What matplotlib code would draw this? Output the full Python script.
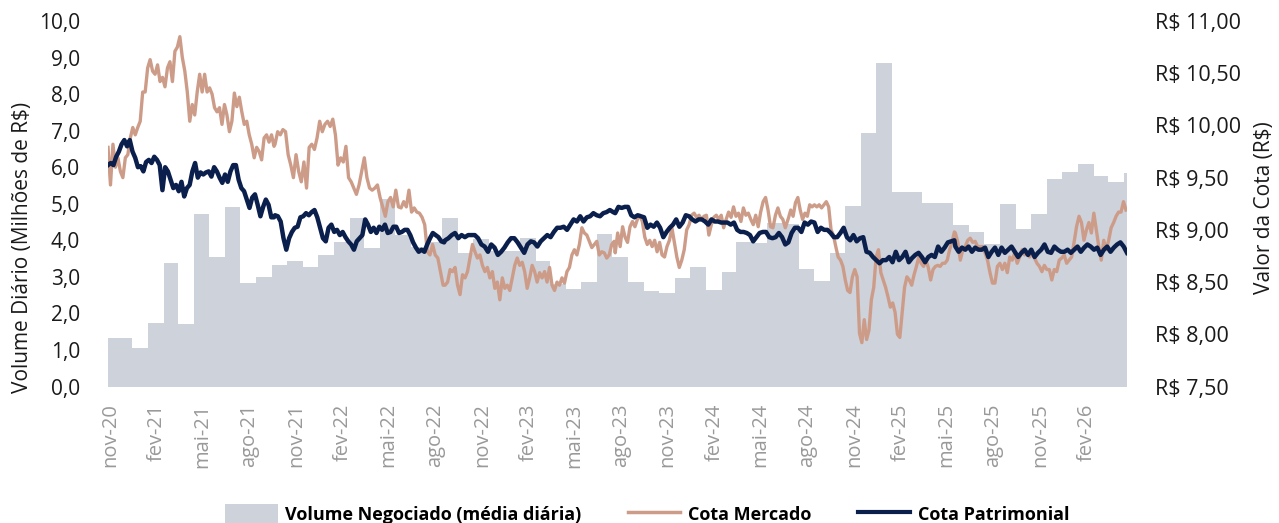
import numpy as np
import pandas as pd
import matplotlib
matplotlib.use("Agg")
import matplotlib.pyplot as plt
from matplotlib.patches import Patch
from matplotlib.lines import Line2D

plt.rcParams['font.family'] = ['Open Sans', 'DejaVu Sans']

# ---------------- data ----------------
# monthly average traded volume (R$ millions), nov-20 .. abr-26
volume = [1.33, 1.05, 1.74, 3.38, 1.71, 4.73, 3.55, 4.90, 2.84, 3.00, 3.33, 3.42,
          3.28, 3.61, 3.95, 4.60, 3.80, 5.14, 4.15, 3.83, 3.96, 4.62, 3.66, 4.03,
          3.70, 3.70, 4.05, 3.43, 2.80, 2.67, 2.86, 4.18, 3.53, 2.86, 2.62, 2.57,
          2.98, 3.28, 2.65, 3.14, 3.96, 3.93, 4.48, 4.45, 3.22, 2.90, 3.65, 4.93,
          6.93, 8.85, 5.33, 5.33, 5.03, 5.03, 4.43, 4.24, 3.90, 5.00, 4.32, 4.73,
          5.67, 5.88, 6.10, 5.75, 5.60, 5.85]
volume_start = "2020-10-28"
volume_end = "2026-04-21"

# Cota Mercado (R$), read in six consecutive periods
merc_1 = [9.79, 9.43, 9.82, 9.60, 9.69, 9.56, 9.50, 9.69, 9.72, 9.88, 9.98, 9.91, 9.98, 10.04,
          10.32, 10.32, 10.55, 10.63, 10.52, 10.49, 10.58, 10.42, 10.46, 10.37, 10.55, 10.61,
          10.42, 10.71, 10.75, 10.85, 10.65, 10.52, 10.32, 10.04, 10.20, 10.10, 10.32, 10.49,
          10.32, 10.49, 10.32, 10.36, 10.30, 10.17, 10.13, 10.17, 10.01, 10.20, 10.10, 9.94,
          10.04, 10.31, 10.18, 10.27, 10.13, 10.01, 10.04, 9.91, 9.82, 9.69, 9.79, 9.75, 9.67,
          9.88, 9.91, 9.84, 9.91, 9.80]
merc_2 = [9.82, 9.94, 9.91, 9.96, 9.94, 9.72, 9.62, 9.50, 9.72, 9.56, 9.46, 9.65, 9.40, 9.79,
          9.82, 9.77, 9.88, 10.04, 9.94, 10.01, 10.04, 9.99, 10.06, 9.91, 9.62, 9.69, 9.65,
          9.80, 9.50, 9.46, 9.40, 9.34, 9.43, 9.56, 9.69, 9.50, 9.40, 9.38, 9.40, 9.43, 9.31,
          9.22, 9.13, 9.27, 9.31, 9.22, 9.38, 9.22, 9.21, 9.27, 9.22, 9.38, 9.17, 9.21, 9.17,
          9.16, 9.12, 9.05, 8.79, 8.76, 8.86, 8.76, 8.73, 8.60, 8.47]
merc_3 = [8.47, 8.50, 8.62, 8.60, 8.64, 8.47, 8.38, 8.57, 8.54, 8.60, 8.73, 8.86, 8.79, 8.73,
          8.76, 8.66, 8.60, 8.64, 8.54, 8.60, 8.44, 8.50, 8.33, 8.54, 8.44, 8.47, 8.42, 8.54,
          8.66, 8.73, 8.66, 8.69, 8.60, 8.44, 8.54, 8.66, 8.60, 8.50, 8.59, 8.54, 8.60, 8.50,
          8.64, 8.47, 8.42, 8.50, 8.47, 8.54, 8.49, 8.60, 8.64, 8.76, 8.81, 8.76, 8.86, 9.02,
          8.97, 8.95, 8.89, 8.83, 8.86, 8.89, 8.76, 8.79, 8.78, 8.73, 8.76, 8.86, 8.89]
merc_4 = [8.78, 8.97, 8.84, 9.03, 8.93, 8.88, 9.03, 9.08, 9.03, 9.10, 9.14, 9.08, 8.93, 8.86,
          8.90, 8.84, 8.90, 8.79, 8.88, 8.76, 8.74, 8.84, 8.90, 9.02, 8.88, 8.74, 8.64, 8.71,
          8.81, 9.00, 9.05, 9.14, 9.16, 9.12, 9.14, 9.10, 9.13, 9.14, 8.95, 9.05, 9.12, 9.14,
          9.10, 9.14, 9.02, 9.10, 9.17, 9.12, 9.22, 9.13, 9.16, 9.08, 9.21, 9.14, 9.16, 9.10,
          9.05, 9.14, 9.03, 9.17, 9.27, 9.31, 9.19, 9.03, 9.02, 9.14, 9.21, 9.13, 9.10, 9.02]
merc_5 = [9.11, 9.19, 9.13, 9.26, 9.31, 9.19, 9.10, 9.16, 9.13, 9.24, 9.22, 9.24, 9.22, 9.24,
          9.21, 9.24, 9.27, 9.22, 9.00, 8.95, 8.84, 8.74, 8.71, 8.65, 8.52, 8.42, 8.40, 8.55,
          8.62, 8.55, 8.01, 7.92, 8.14, 7.95, 8.04, 8.33, 8.45, 8.74, 8.81, 8.59, 8.52, 8.45,
          8.36, 8.26, 8.30, 8.21, 8.00, 7.97, 8.21, 8.45, 8.55, 8.52, 8.47, 8.57, 8.65, 8.74,
          8.68, 8.65, 8.71, 8.64, 8.52, 8.62, 8.65, 8.66, 8.65, 8.68, 8.68, 8.71, 8.81, 8.88,
          8.98]
merc_6 = [8.97, 8.88, 8.71, 8.81, 8.84, 8.90, 8.92, 8.88, 8.89, 8.84, 8.84, 8.84, 8.78, 8.71,
          8.59, 8.49, 8.49, 8.65, 8.68, 8.62, 8.68, 8.59, 8.74, 8.71, 8.78, 8.68, 8.74, 8.81,
          8.76, 8.78, 8.74, 8.78, 8.73, 8.68, 8.65, 8.60, 8.66, 8.62, 8.62, 8.52, 8.62, 8.60,
          8.71, 8.73, 8.76, 8.68, 8.71, 8.74, 8.88, 9.03, 9.13, 9.07, 8.90, 9.00, 9.07, 8.97,
          9.16, 9.00, 8.84, 8.71, 8.90, 8.81, 8.90, 9.02, 9.07, 9.13, 9.17, 9.17, 9.27, 9.19]
merc_periods = [("2020-10-28", "2021-09-19"), ("2021-09-21", "2022-08-17"),
                ("2022-08-21", "2023-07-19"), ("2023-07-21", "2024-06-19"),
                ("2024-06-25", "2025-05-17"), ("2025-05-19", "2026-04-19")]

# Cota Patrimonial (R$)
patr_1 = [9.62, 9.64, 9.62, 9.70, 9.75, 9.82, 9.86, 9.80, 9.86, 9.75, 9.69, 9.60, 9.61, 9.56,
          9.65, 9.67, 9.64, 9.70, 9.67, 9.62, 9.38, 9.60, 9.56, 9.48, 9.40, 9.43, 9.37, 9.46,
          9.32, 9.40, 9.43, 9.56, 9.64, 9.50, 9.55, 9.53, 9.55, 9.56, 9.51, 9.60, 9.56, 9.50,
          9.45, 9.53, 9.46, 9.56, 9.62, 9.62, 9.48, 9.40, 9.37, 9.29, 9.21, 9.31, 9.34, 9.24,
          9.13, 9.22, 9.29, 9.24, 9.12, 9.12]
patr_2 = [9.14, 9.13, 9.08, 8.92, 8.81, 8.92, 8.98, 9.02, 9.03, 9.12, 9.13, 9.16, 9.14, 9.17,
          9.19, 9.12, 9.02, 8.92, 8.89, 9.02, 9.05, 8.98, 9.00, 8.95, 8.98, 8.93, 8.89, 8.86,
          8.81, 8.89, 8.92, 8.95, 9.10, 9.05, 8.98, 9.02, 8.97, 9.03, 9.00, 9.05, 8.97, 8.98,
          9.03, 9.03, 8.97, 8.98, 9.00, 9.00, 8.95, 8.88, 8.83, 8.79, 8.81, 8.79, 8.86, 8.92,
          8.97, 8.95, 8.93, 8.89, 8.88]
patr_3 = [8.90, 8.92, 8.95, 8.97, 8.92, 8.95, 8.93, 8.95, 8.95, 8.95, 8.92, 8.86, 8.84, 8.79,
          8.86, 8.83, 8.76, 8.79, 8.83, 8.88, 8.92, 8.92, 8.88, 8.83, 8.78, 8.86, 8.89, 8.88,
          8.84, 8.89, 8.92, 8.95, 8.93, 8.98, 9.02, 9.02, 9.03, 9.00, 9.05, 9.10, 9.08, 9.13,
          9.08, 9.12, 9.13, 9.16, 9.14, 9.13, 9.16, 9.17, 9.19, 9.17]
patr_4 = [9.16, 9.22, 9.21, 9.22, 9.22, 9.14, 9.12, 9.14, 9.13, 9.12, 9.02, 9.05, 9.03, 9.07,
          9.02, 8.93, 8.98, 9.02, 9.05, 9.10, 9.03, 9.07, 9.14, 9.13, 9.10, 9.08, 9.10, 9.10,
          9.08, 9.05, 9.10, 9.08, 9.08, 9.07, 9.07, 9.07, 9.05, 9.07, 9.00, 8.98, 8.98, 8.97,
          8.95, 8.89, 8.93, 8.97, 8.98, 8.98, 8.93, 8.92, 8.93, 8.97, 8.93, 8.86]
patr_5 = [8.88, 8.97, 9.02, 9.02, 8.98, 9.07, 9.05, 9.08, 9.07, 8.98, 9.02, 9.00, 9.00, 8.97,
          8.93, 8.93, 8.97, 9.02, 8.93, 8.90, 8.95, 8.89, 8.92, 8.93, 8.79, 8.78, 8.74, 8.71,
          8.68, 8.71, 8.71, 8.74, 8.69, 8.79, 8.71, 8.74, 8.79, 8.69, 8.73, 8.76, 8.78, 8.74,
          8.69, 8.74, 8.76, 8.74, 8.84, 8.79, 8.83, 8.88, 8.89, 8.90]
patr_6 = [8.84, 8.79, 8.83, 8.81, 8.84, 8.79, 8.83, 8.81, 8.81, 8.83, 8.74, 8.79, 8.83, 8.76,
          8.83, 8.78, 8.81, 8.84, 8.79, 8.74, 8.78, 8.81, 8.76, 8.81, 8.74, 8.78, 8.81, 8.86,
          8.79, 8.78, 8.84, 8.81, 8.79, 8.79, 8.81, 8.78, 8.81, 8.84, 8.79, 8.83, 8.86, 8.84,
          8.81, 8.83, 8.76, 8.81, 8.84, 8.79, 8.83, 8.86, 8.88, 8.84, 8.78]
patr_periods = [("2020-10-28", "2021-09-19"), ("2021-09-21", "2022-08-19"),
                ("2022-08-21", "2023-07-17"), ("2023-07-21", "2024-06-19"),
                ("2024-06-25", "2025-05-17"), ("2025-05-19", "2026-04-21")]

tick_dates = ["2020-11-01", "2021-02-01", "2021-05-01", "2021-08-01", "2021-11-01",
              "2022-02-01", "2022-05-01", "2022-08-01", "2022-11-01", "2023-02-01",
              "2023-05-01", "2023-08-01", "2023-11-01", "2024-02-01", "2024-05-01",
              "2024-08-01", "2024-11-01", "2025-02-01", "2025-05-01", "2025-08-01",
              "2025-11-01", "2026-02-01"]
tick_labels = ["nov-20", "fev-21", "mai-21", "ago-21", "nov-21", "fev-22", "mai-22",
               "ago-22", "nov-22", "fev-23", "mai-23", "ago-23", "nov-23", "fev-24",
               "mai-24", "ago-24", "nov-24", "fev-25", "mai-25", "ago-25", "nov-25",
               "fev-26"]

left_ticks = [0, 1, 2, 3, 4, 5, 6, 7, 8, 9, 10]
right_ticks = [7.5, 8.0, 8.5, 9.0, 9.5, 10.0, 10.5, 11.0]

# ---------------- build series ----------------
def build(segments, periods):
    xs, ys = [], []
    for seg, (a, b) in zip(segments, periods):
        t0, t1 = pd.Timestamp(a), pd.Timestamp(b)
        xs.append(pd.to_datetime(np.linspace(t0.value, t1.value, len(seg))))
        ys.append(np.array(seg))
    return np.concatenate([x.values for x in xs]), np.concatenate(ys)

mx, my = build([merc_1, merc_2, merc_3, merc_4, merc_5, merc_6], merc_periods)
px, py = build([patr_1, patr_2, patr_3, patr_4, patr_5, patr_6], patr_periods)

mid = pd.date_range("2020-11-15", periods=len(volume) - 1, freq="MS") + pd.Timedelta(days=14)
edges = [pd.Timestamp(volume_start)] + list(mid) + [pd.Timestamp(volume_end)]
vy = list(volume) + [volume[-1]]

# ---------------- plot ----------------
GRAY = "#CDD2DB"
TAN = "#CD9C88"
NAVY = "#0B1F4D"

fig = plt.figure(figsize=(12.79, 5.23), dpi=100)
ax = fig.add_axes([108 / 1279, 136.5 / 523, 1019 / 1279, 365.5 / 523])
ax.fill_between(edges, vy, 0, step="post", color=GRAY, linewidth=0)
ax.set_ylim(0, 10)
ax.set_xlim(pd.Timestamp(volume_start), pd.Timestamp(volume_end))

ax2 = ax.twinx()
ax2.plot(mx, my, color=TAN, linewidth=2.4, solid_joinstyle="round")
ax2.plot(px, py, color=NAVY, linewidth=3.2, solid_joinstyle="round")
ax2.set_ylim(7.5, 11.0)

for a in (ax, ax2):
    for s in a.spines.values():
        s.set_visible(False)

ax.set_yticks(left_ticks)
ax.set_yticklabels([f"{v:.1f}".replace(".", ",") for v in left_ticks], fontsize=15, color="#1a1a1a")
ax2.set_yticks(right_ticks)
ax2.set_yticklabels([("R$ " + f"{v:.2f}").replace(".", ",") for v in right_ticks], fontsize=15.5, color="#1a1a1a")
ax.tick_params(axis="y", length=0, pad=20)
ax2.tick_params(axis="y", length=0, pad=20)

ax.set_xticks(pd.to_datetime(tick_dates))
ax.set_xticklabels(tick_labels, rotation=90, fontsize=14.5, color="#999999")
ax.tick_params(axis="x", length=0, pad=12)

ax.set_ylabel("Volume Diário (Milhões de R$)", fontsize=15, color="#1a1a1a")
ax.yaxis.set_label_coords(-0.074, 0.38)
ax2.set_ylabel("Valor da Cota (R$)", fontsize=15, color="#1a1a1a")
ax2.yaxis.set_label_coords(1.125, 0.49)

handles = [Patch(facecolor=GRAY, edgecolor="none"),
           Line2D([0], [0], color=TAN, linewidth=2.5),
           Line2D([0], [0], color=NAVY, linewidth=3)]
labels = ["Volume Negociado (média diária)", "Cota Mercado", "Cota Patrimonial"]
leg = fig.legend(handles, labels, loc="center", bbox_to_anchor=(0.506, 0.017), ncol=3,
                 frameon=False, prop={"weight": "bold", "size": 13},
                 handlelength=2.9, handleheight=1.2, handletextpad=0.4, columnspacing=2.6)

fig.savefig("out.png", dpi=100)
